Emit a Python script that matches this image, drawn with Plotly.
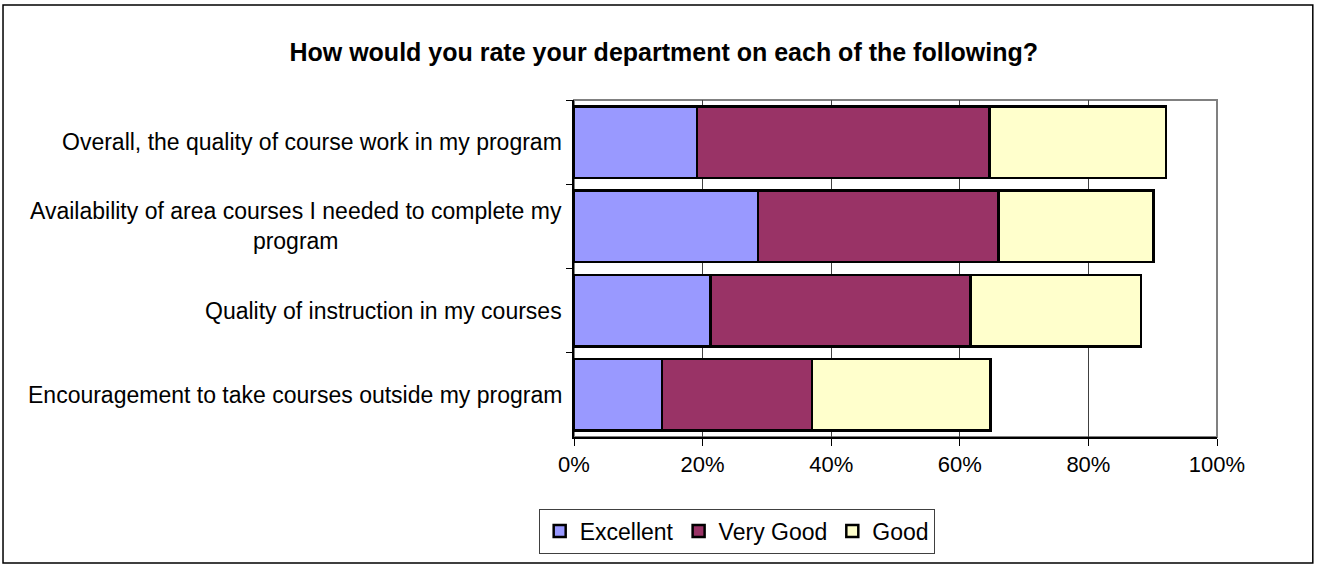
import plotly.graph_objects as go

categories = [
    "Overall, the quality of course work in my program",
    "Availability of area courses I needed to complete my<br>program",
    "Quality of instruction in my courses",
    "Encouragement to take courses outside my program",
]
excellent = [19.1, 28.6, 21.2, 13.7]
very_good = [45.5, 37.4, 40.5, 23.3]
good = [27.5, 24.1, 26.5, 27.8]
x_ticks = [0, 20, 40, 60, 80, 100]
x_labels = ["0%", "20%", "40%", "60%", "80%", "100%"]

font = "Arial, Liberation Sans, sans-serif"

fig = go.Figure()
fig.add_trace(go.Bar(y=categories, x=excellent, name="Excellent", orientation="h",
                     marker=dict(color="#9999FF", line=dict(color="black", width=2.5))))
fig.add_trace(go.Bar(y=categories, x=very_good, name="Very Good", orientation="h",
                     marker=dict(color="#993366", line=dict(color="black", width=2.5))))
fig.add_trace(go.Bar(y=categories, x=good, name="Good", orientation="h",
                     marker=dict(color="#FFFFCC", line=dict(color="black", width=2.5))))

# category labels as annotations so the wrapped one is centred
for c in categories:
    fig.add_annotation(x=0, y=c, xref="paper", yref="y", text=c, showarrow=False,
                       xanchor="right", align="center", xshift=-10,
                       font=dict(size=23, color="black", family=font))

# plot area frame (gray) and outer chart border
fig.add_shape(type="rect", xref="paper", yref="paper", x0=0, x1=1, y0=0, y1=1,
              line=dict(color="#808080", width=2), layer="below")
fig.add_shape(type="rect", xref="paper", yref="paper", x0=-0.888, x1=1.149, y0=-0.374, y1=1.282,
              line=dict(color="black", width=1.5))

fig.update_layout(
    width=1317, height=568,
    barmode="stack", bargap=0.15,
    plot_bgcolor="white", paper_bgcolor="white",
    margin=dict(l=574, r=100, t=100, b=131),
    font=dict(family=font, size=22, color="black"),
    title=dict(text="<b>How would you rate your department on each of the following?</b>",
               x=0.504, xanchor="center", y=0.908, yanchor="middle",
               font=dict(size=25, family=font, color="black")),
    legend=dict(orientation="h", x=0.253, xanchor="center", y=-0.279, yanchor="middle",
                traceorder="normal", bordercolor="#404040", borderwidth=1,
                font=dict(size=23), itemwidth=30, tracegroupgap=0),
    showlegend=True,
)
fig.update_xaxes(range=[0, 100], tickvals=x_ticks, ticktext=x_labels,
                 showgrid=True, gridcolor="#404040", gridwidth=1,
                 showline=True, linecolor="black", linewidth=1.5,
                 ticks="outside", ticklen=7, tickcolor="black", zeroline=False)
fig.update_yaxes(autorange="reversed", showticklabels=False, tickson="boundaries",
                 ticks="outside", ticklen=6, tickcolor="black",
                 showline=True, linecolor="black", linewidth=1.5, showgrid=False)

fig.write_html("out.html", config={"displayModeBar": False},
               post_script="document.body.style.margin='0';")
